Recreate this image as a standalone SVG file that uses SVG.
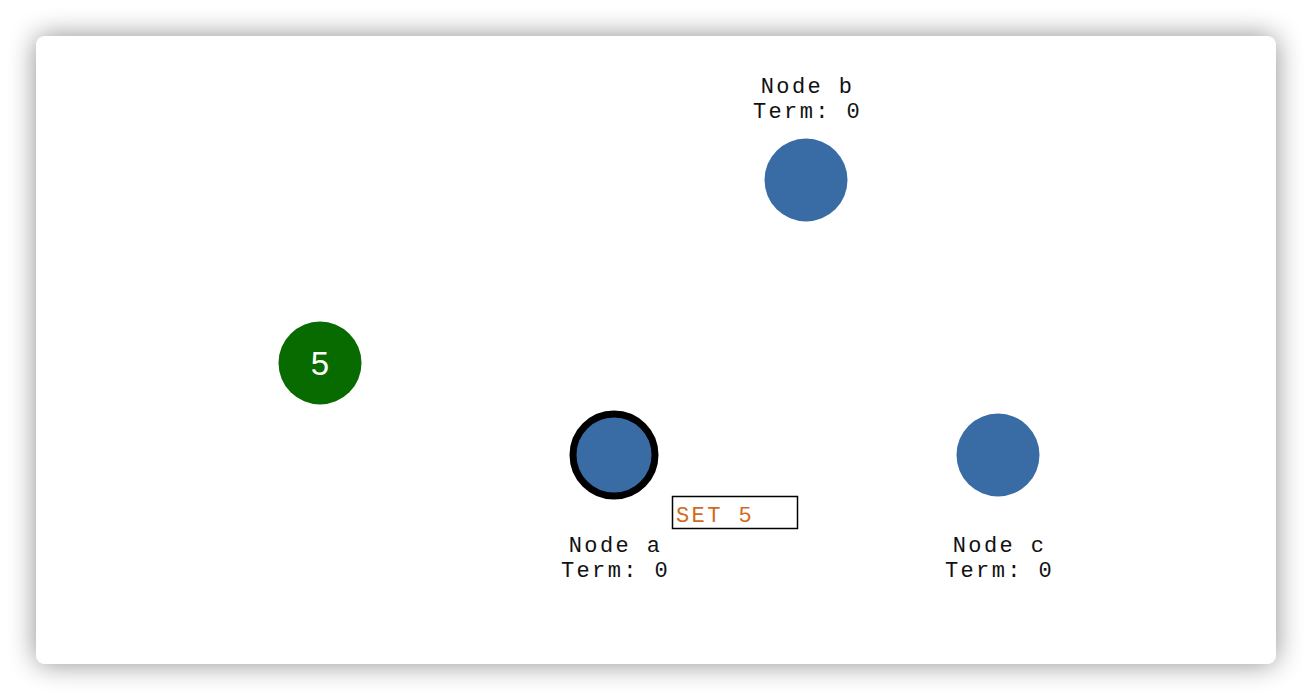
<svg xmlns="http://www.w3.org/2000/svg" width="1312" height="700" viewBox="0 0 1312 700">
<defs>
<filter id="sh" x="-10%" y="-10%" width="120%" height="120%">
<feGaussianBlur in="SourceAlpha" stdDeviation="14"/>
<feComponentTransfer><feFuncA type="linear" slope="0.45"/></feComponentTransfer>
<feMerge><feMergeNode/><feMergeNode in="SourceGraphic"/></feMerge>
</filter>
<style>
.n{fill:#396ba5}
.lbl{font-family:"Liberation Mono",monospace;font-size:22px;letter-spacing:2.4px;fill:#111;text-anchor:middle}
</style>
</defs>
<rect width="1312" height="700" fill="#fff"/>
<rect x="36" y="36" width="1240" height="628" rx="9" fill="#fff" filter="url(#sh)"/>
<g id="connectors"></g>
<g id="node-b">
<circle class="n" cx="806" cy="180" r="41.5"/>
<text class="lbl" x="807.5" y="93">Node b</text>
<text class="lbl" x="807.5" y="118">Term: 0</text>
</g>
<g id="node-a">
<circle class="n" cx="614" cy="455" r="41" stroke="#000" stroke-width="7"/>
<text class="lbl" x="615.5" y="552">Node a</text>
<text class="lbl" x="615.5" y="577">Term: 0</text>
</g>
<g id="node-c">
<circle class="n" cx="998" cy="455" r="41.5"/>
<text class="lbl" x="999.5" y="552">Node c</text>
<text class="lbl" x="999.5" y="577">Term: 0</text>
</g>
<g id="msg">
<circle cx="320" cy="363" r="41.5" fill="#086b00"/>
<text x="320" y="375" fill="#fff" font-family="Liberation Sans,Arial,sans-serif" font-size="33" text-anchor="middle">5</text>
</g>
<g id="cmd">
<rect x="672.5" y="496.5" width="125" height="32" fill="#fff" stroke="#000" stroke-width="1.5"/>
<text x="676" y="522" fill="#d2691e" font-family="Liberation Mono,monospace" font-size="22" letter-spacing="2.4">SET 5</text>
</g>
</svg>
